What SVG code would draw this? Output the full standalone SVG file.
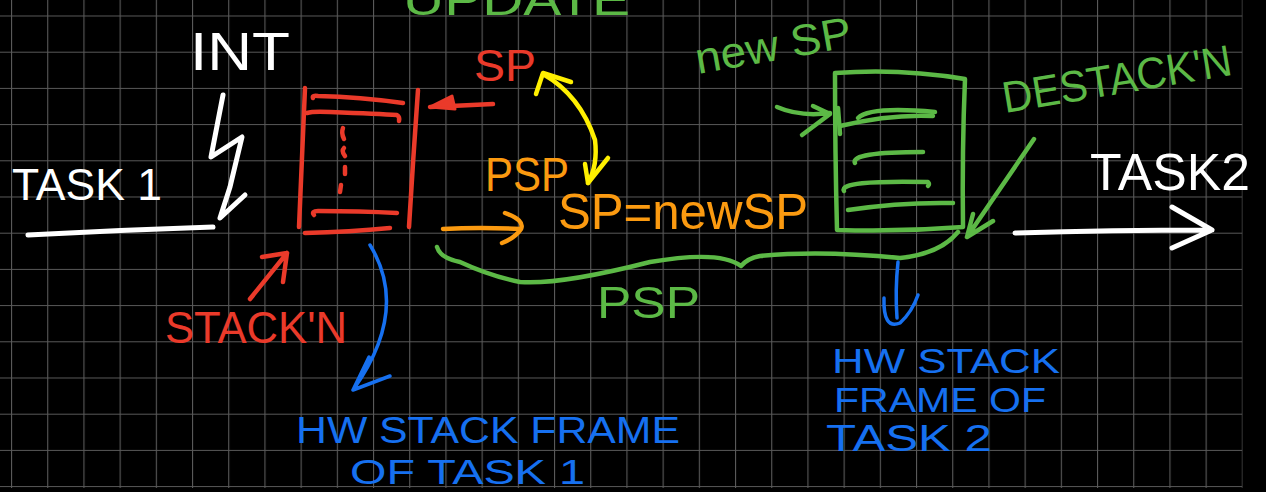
<svg xmlns="http://www.w3.org/2000/svg" width="1266" height="492" viewBox="0 0 1266 492">
  <defs>
    <pattern id="grid" x="11" y="15.5" width="36.2" height="36.2" patternUnits="userSpaceOnUse">
      <path d="M0.5,0 V36.2 M0,0.5 H36.2" stroke="#5a5a5a" stroke-width="1.2" fill="none"/>
    </pattern>
    <style>
      .t { font-family: "Liberation Sans", Arial, sans-serif; }
      .s { fill: none; stroke-linecap: round; stroke-linejoin: round; }
      .w { stroke: #ffffff; stroke-width: 5; }
      .r { stroke: #ea3a2a; stroke-width: 4.5; }
      .o { stroke: #fb9a10; stroke-width: 4.5; }
      .y { stroke: #fff000; stroke-width: 4.5; }
      .g { stroke: #5cb946; stroke-width: 4.5; }
      .b { stroke: #1670f0; stroke-width: 3.5; }
      .fw { fill: #ffffff; }
      .fr { fill: #ea3a2a; }
      .fo { fill: #fb9a10; }
      .fg { fill: #5cb946; }
      .fb { fill: #1670f0; }
    </style>
  </defs>

  <rect x="0" y="0" width="1266" height="492" fill="#000000"/>
  <rect x="0" y="0" width="1242.5" height="488" fill="url(#grid)"/>

  <!-- top cut-off label -->
  <g id="update-label">
    <text class="t fg" x="403" y="15" font-size="44" textLength="227" lengthAdjust="spacingAndGlyphs">UPDATE</text>
  </g>

  <!-- Task 1 -->
  <g id="task1">
    <text class="t fw" x="12" y="200" font-size="45" textLength="150" lengthAdjust="spacingAndGlyphs">TASK 1</text>
    <path class="s w" d="M28,235 Q120,230 213,227"/>
  </g>

  <!-- INT -->
  <g id="int">
    <text class="t fw" x="190" y="70" font-size="54" textLength="100" lengthAdjust="spacingAndGlyphs">INT</text>
  </g>

  <!-- stack of task 1 -->
  <g id="stack1">
    <path class="s r" d="M305,88 Q302,160 299,227"/>
    <path class="s r" d="M418,90 Q413,160 409,227"/>
    <path class="s r" d="M313,98 Q312,95 318,96 Q360,97 403,103"/>
    <path class="s r" d="M307,113 Q313,111 330,112 Q380,114 397,115 Q400,117 399,121"/>
    <path class="s r" d="M314,215 Q311,211 318,211 Q360,211 397,213"/>
    <path class="s r" d="M305,233 Q350,232 390,228"/>
    <path class="s r" stroke-width="2.5" d="M343,128 Q341,133 344,139 M344,148 Q341,151 345,156 M345,167 L345,174 M341,185 L340,192"/>
  </g>

  <!-- SP red label -->
  <g id="sp-label">
    <text class="t fr" x="474" y="81" font-size="44" textLength="62" lengthAdjust="spacingAndGlyphs">SP</text>
  </g>

  <!-- STACK'N label -->
  <g id="stackin-label">
    <text class="t fr" x="165" y="343" font-size="44" textLength="182" lengthAdjust="spacingAndGlyphs">STACK'N</text>
  </g>

  <!-- PSP orange -->
  <g id="psp-label">
    <text class="t fo" x="485" y="191" font-size="48" textLength="84" lengthAdjust="spacingAndGlyphs">PSP</text>
  </g>

  <!-- SP=newSP -->
  <g id="sp-assign">
    <text class="t fo" x="558" y="229" font-size="50" textLength="250" lengthAdjust="spacingAndGlyphs">SP=newSP</text>
  </g>

  <!-- new SP green -->
  <g id="newsp-label">
    <text class="t fg" x="698" y="74" font-size="44" transform="rotate(-10 698 74)" textLength="158" lengthAdjust="spacingAndGlyphs">new SP</text>
  </g>

  <!-- stack of task 2 -->
  <g id="stack2">
    <path class="s g" d="M835,73 Q900,68 965,79 Q962,150 963,227 Q900,232 837,230 Q835,150 835,73"/>
    <path class="s g" d="M838,108 L840,134"/>
    <path class="s g" d="M858,118 Q870,106 935,112"/>
    <path class="s g" d="M840,126 Q890,114 933,116"/>
    <path class="s g" d="M855,163 Q850,152 923,152"/>
    <path class="s g" d="M844,191 Q838,180 928,182 Q930,184 928,186"/>
    <path class="s g" d="M848,210 Q900,202 953,203"/>
  </g>

  <!-- DESTACK'N label -->
  <g id="destackin-label">
    <text class="t fg" x="1005" y="113" font-size="44" transform="rotate(-9.5 1005 113)" textLength="232" lengthAdjust="spacingAndGlyphs">DESTACK'N</text>
  </g>

  <!-- Task 2 -->
  <g id="task2">
    <text class="t fw" x="1090" y="190" font-size="52" textLength="160" lengthAdjust="spacingAndGlyphs">TASK2</text>
  </g>

  <!-- PSP green -->
  <g id="psp-brace-label">
    <text class="t fg" x="597" y="318" font-size="45" textLength="103" lengthAdjust="spacingAndGlyphs">PSP</text>
  </g>

  <!-- HW stack frame of task 1 -->
  <g id="hw-frame-task1">
    <text class="t fb" x="296" y="443" font-size="36" textLength="384" lengthAdjust="spacingAndGlyphs">HW STACK FRAME</text>
    <text class="t fb" x="350" y="484" font-size="35" textLength="235" lengthAdjust="spacingAndGlyphs">OF TASK 1</text>
  </g>

  <!-- HW stack frame of task 2 -->
  <g id="hw-frame-task2">
    <text class="t fb" x="832" y="373" font-size="35" textLength="228" lengthAdjust="spacingAndGlyphs">HW STACK</text>
    <text class="t fb" x="834" y="412" font-size="35" textLength="212" lengthAdjust="spacingAndGlyphs">FRAME OF</text>
    <text class="t fb" x="826" y="451" font-size="36" textLength="166" lengthAdjust="spacingAndGlyphs">TASK 2</text>
  </g>

  <!-- connectors -->
  <g id="connectors">
    <!-- interrupt lightning -->
    <path class="s w" d="M223,95 L211,157 L242,137 L230,187 L220,218 L245,195"/>
    <!-- task 2 arrow -->
    <path class="s w" d="M1015,233 Q1110,230 1212,230 M1172,207 L1212,230 L1172,248"/>
    <!-- SP red arrow to stack -->
    <path class="s r" d="M493,104 L430,107"/>
    <path class="fr" stroke="#ea3a2a" stroke-width="3" stroke-linejoin="round" d="M430,107 L452,96 L455,109 Z"/>
    <!-- stacking arrow -->
    <path class="s r" d="M250,299 L287,253 M262,257 L287,253 L283,282"/>
    <!-- yellow double arrow -->
    <path class="s y" d="M543,74 Q580,95 595,140 Q598,165 588,183"/>
    <path class="s y" d="M536,94 L543,73 L571,82"/>
    <path class="s y" d="M585,164 L588,183 L608,158"/>
    <!-- orange arrow -->
    <path class="s o" d="M443,229 Q480,227 520,229"/>
    <path class="s o" d="M505,213 Q525,220 521,229 Q515,238 502,243"/>
    <!-- new SP green arrow into stack -->
    <path class="s g" d="M777,107 Q800,117 830,113 M813,106 L830,114 L802,135"/>
    <!-- destacking arrow -->
    <path class="s g" d="M1034,139 L967,237 M973,214 L967,237 L993,221"/>
    <!-- PSP brace -->
    <path class="s g" d="M437,247 Q440,258 460,262 Q490,276 520,282 Q560,285 650,262 Q720,250 741,266 Q748,258 760,256 Q820,250 900,258 Q940,254 958,232"/>
    <!-- HW frame task1 arrow -->
    <path class="s b" d="M370,245 Q410,310 353,390 M369,357 L353,390 L390,376"/>
    <!-- HW frame task2 arrow -->
    <path class="s b" d="M898,262 Q895,290 897,318 M884,298 Q883,330 900,323 Q912,312 918,295"/>
  </g>
</svg>
